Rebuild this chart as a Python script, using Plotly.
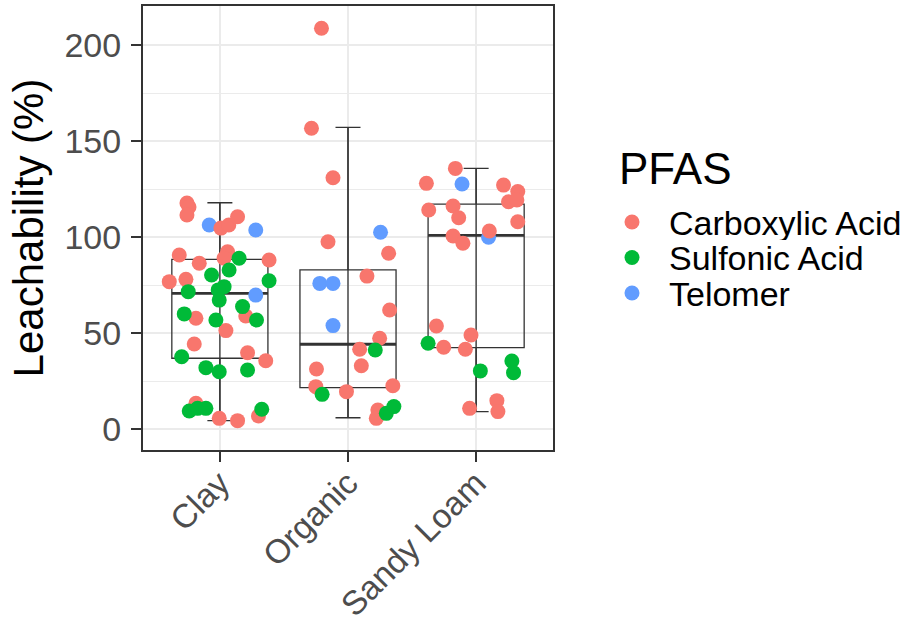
import plotly.graph_objects as go

# ---------------- data ----------------
soils = ["Clay", "Organic", "Sandy Loam"]
pfas_types = ["Carboxylic Acid", "Sulfonic Acid", "Telomer"]
colors = {"Carboxylic Acid": "#F8766D", "Sulfonic Acid": "#00BA38", "Telomer": "#619CFF"}

clay_carboxylic = [117.9, 115.8, 111.6, 104.8, 106.4, 110.7, 92.5, 89.1, 90.8, 86.5, 88.2, 76.9,
                   78.1, 57.8, 59.0, 51.4, 44.4, 39.9, 35.7, 13.5, 5.7, 4.5, 6.9]
clay_carboxylic_jit = [-0.257, -0.241, -0.257, 0.008, 0.07, 0.138, 0.06, 0.033, -0.317, -0.161, 0.384, -0.395,
                       -0.265, -0.187, 0.202, 0.047, -0.2, 0.216, 0.358, -0.187, -0.005, 0.138, 0.301]
clay_sulfonic = [80.4, 89.1, 83.0, 77.4, 71.7, 74.3, 72.6, 67.3, 63.9, 60.1, 56.9, 56.9,
                 37.8, 32.1, 30.0, 30.9, 9.5, 10.9, 10.9, 10.4]
clay_sulfonic_jit = [-0.065, 0.15, 0.072, 0.384, -0.247, 0.033, -0.013, -0.005, 0.177, -0.278, -0.031, 0.286,
                     -0.298, -0.109, -0.005, 0.216, -0.239, -0.174, -0.109, 0.327]
clay_telomer = [106.4, 103.8, 69.9]
clay_telomer_jit = [-0.083, 0.28, 0.28]

organic_carboxylic = [208.9, 156.8, 131.0, 97.7, 31.4, 22.2, 19.6, 91.7, 79.8, 62.1, 47.4, 41.7,
                      33.1, 22.7, 10.0, 5.7]
organic_carboxylic_jit = [-0.207, -0.285, -0.117, -0.156, -0.246, -0.251, -0.012, 0.317, 0.148, 0.325, 0.247, 0.091,
                          0.104, 0.35, 0.233, 0.221]
organic_sulfonic = [18.2, 41.3, 8.3, 11.8]
organic_sulfonic_jit = [-0.202, 0.213, 0.299, 0.358]
organic_telomer = [76.0, 76.0, 54.0, 102.6]
organic_telomer_jit = [-0.22, -0.117, -0.117, 0.254]

sandy_carboxylic = [135.9, 128.1, 114.2, 116.3, 110.2, 100.7, 96.9, 53.8, 42.7, 41.7, 49.1, 10.9,
                    127.2, 123.8, 118.5, 119.4, 108.1, 103.3, 14.9, 9.2]
sandy_carboxylic_jit = [-0.162, -0.388, -0.37, -0.18, -0.136, -0.18, -0.103, -0.31, -0.253, -0.084, -0.04, -0.051,
                        0.214, 0.325, 0.253, 0.318, 0.325, 0.103, 0.162, 0.17]
sandy_sulfonic = [44.8, 30.4, 35.6, 29.5]
sandy_sulfonic_jit = [-0.375, 0.033, 0.279, 0.292]
sandy_telomer = [127.8, 100.0]
sandy_telomer_jit = [-0.11, 0.097]

# box statistics per soil
box_lower = [4.5, 6.0, 9.2]
box_q1 = [37.0, 21.7, 42.5]
box_median = [70.8, 44.3, 101.0]
box_q3 = [88.5, 83.0, 117.3]
box_upper = [118.0, 157.3, 135.9]

y_ticks = [0, 50, 100, 150, 200]

points = {
    "Carboxylic Acid": [(clay_carboxylic, clay_carboxylic_jit), (organic_carboxylic, organic_carboxylic_jit),
                        (sandy_carboxylic, sandy_carboxylic_jit)],
    "Sulfonic Acid": [(clay_sulfonic, clay_sulfonic_jit), (organic_sulfonic, organic_sulfonic_jit),
                      (sandy_sulfonic, sandy_sulfonic_jit)],
    "Telomer": [(clay_telomer, clay_telomer_jit), (organic_telomer, organic_telomer_jit),
                (sandy_telomer, sandy_telomer_jit)],
}

# ---------------- layout constants ----------------
W, H = 911, 622
ML, MR, MT, MB = 143, 358, 6, 172
PW, PH = W - ML - MR, H - MT - MB
FONT = "Liberation Sans, Arial, sans-serif"
LINE = "#333333"
BOX_W = 0.75

pos = [i + 1 for i in range(len(soils))]

fig = go.Figure()

# boxes (no caps, transparent fill)
fig.add_trace(go.Box(
    x=pos, q1=box_q1, median=box_median, q3=box_q3,
    lowerfence=box_lower, upperfence=box_upper,
    width=BOX_W, fillcolor="rgba(0,0,0,0)", whiskerwidth=0,
    line=dict(color=LINE, width=1.3), boxpoints=False,
    showlegend=False, hoverinfo="skip"))

# errorbar whiskers spanning full range
fig.add_trace(go.Scatter(
    x=pos, y=box_lower, mode="markers", marker=dict(size=0.1, color="rgba(0,0,0,0)"),
    error_y=dict(type="data", symmetric=False,
                 array=[u - l for u, l in zip(box_upper, box_lower)],
                 arrayminus=[0] * len(pos), color=LINE, thickness=1.3, width=12.5),
    showlegend=False, hoverinfo="skip"))

# thick medians
for p, m in zip(pos, box_median):
    fig.add_trace(go.Scatter(x=[p - BOX_W / 2, p + BOX_W / 2], y=[m, m], mode="lines",
                             line=dict(color=LINE, width=2.8), showlegend=False, hoverinfo="skip"))

# jittered points
for t in ["Telomer", "Carboxylic Acid", "Sulfonic Acid"]:
    xs, ys = [], []
    for p, (vals, jit) in zip(pos, points[t]):
        xs += [p + j for j in jit]
        ys += vals
    fig.add_trace(go.Scatter(x=xs, y=ys, mode="markers", name=t,
                             marker=dict(size=15, color=colors[t], line=dict(width=0)),
                             showlegend=False))

# custom legend (ggplot-like spacing)
def px_x(x):
    return (x - ML) / PW

def px_y(y):
    return (H - MB - y) / PH

annotations = [dict(text="PFAS", x=px_x(617), y=px_y(168), xref="paper", yref="paper",
                    xanchor="left", yanchor="middle", showarrow=False,
                    font=dict(family=FONT, size=44, color="black"))]
shapes = []
for k, t in enumerate(pfas_types):
    yy = 222 + 35.5 * k
    annotations.append(dict(text=t, x=px_x(667), y=px_y(yy), xref="paper", yref="paper",
                            xanchor="left", yanchor="middle", showarrow=False, height=35,
                            font=dict(family=FONT, size=34, color="black")))
    shapes.append(dict(type="circle", xref="paper", yref="paper",
                       xsizemode="pixel", ysizemode="pixel",
                       xanchor=px_x(632), yanchor=px_y(yy),
                       x0=-7.5, x1=7.5, y0=-7.5, y1=7.5,
                       fillcolor=colors[t], line=dict(width=0)))

fig.update_layout(
    width=W, height=H, margin=dict(l=ML, r=MR, t=MT, b=MB, pad=0),
    paper_bgcolor="white", plot_bgcolor="white",
    font=dict(family=FONT, color="#4D4D4D"),
    showlegend=False, annotations=annotations, shapes=shapes,
    xaxis=dict(range=[0.4, 3.6], tickvals=pos, ticktext=soils, tickangle=-45, automargin=False,
               tickfont=dict(size=33.5, color="#4D4D4D"), ticklabelstandoff=-12,
               showgrid=True, gridcolor="#EBEBEB", gridwidth=2.2, zeroline=False,
               showline=True, linecolor=LINE, linewidth=2, mirror=True,
               ticks="outside", ticklen=10, tickwidth=2.2, tickcolor=LINE),
    yaxis=dict(range=[-10.8, 220.5], tickvals=y_ticks, tickfont=dict(size=34, color="#4D4D4D"),
               automargin=False, ticklabelstandoff=3,
               title=dict(text="Leachability (%)", font=dict(size=42, color="black"), standoff=8),
               showgrid=True, gridcolor="#EBEBEB", gridwidth=2.2, zeroline=False,
               minor=dict(dtick=25, tick0=0, showgrid=True, gridcolor="#EBEBEB", gridwidth=1.1),
               showline=True, linecolor=LINE, linewidth=2, mirror=True,
               ticks="outside", ticklen=10, tickwidth=2.2, tickcolor=LINE),
)

fig.write_html("out.html", config={"displayModeBar": False},
               post_script="document.body.style.margin='0px';")
